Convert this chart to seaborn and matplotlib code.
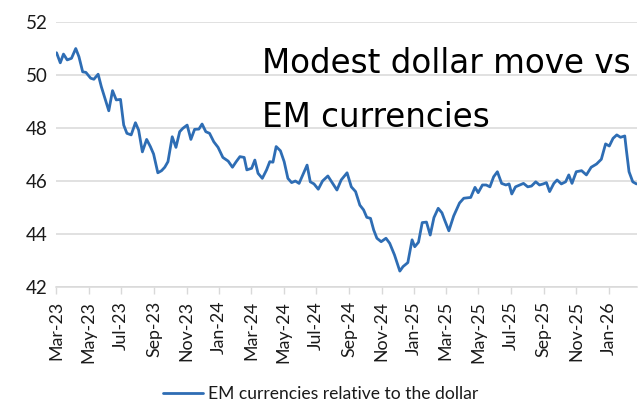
import matplotlib
matplotlib.use("Agg")
import matplotlib.pyplot as plt
import seaborn as sns
import pandas as pd

dates = [
    "2023-03-02", "2023-03-09", "2023-03-15", "2023-03-22", "2023-03-30", "2023-04-07", "2023-04-13",
    "2023-04-20", "2023-04-26", "2023-05-05", "2023-05-11", "2023-05-19", "2023-05-25", "2023-06-08",
    "2023-06-15", "2023-06-22", "2023-06-30", "2023-07-06", "2023-07-12", "2023-07-20", "2023-07-28",
    "2023-08-03", "2023-08-10", "2023-08-18", "2023-08-25", "2023-08-31", "2023-09-08", "2023-09-15",
    "2023-09-21", "2023-09-27", "2023-10-05", "2023-10-12", "2023-10-19", "2023-10-25", "2023-11-02",
    "2023-11-09", "2023-11-16", "2023-11-24", "2023-11-30", "2023-12-07", "2023-12-14", "2023-12-22",
    "2023-12-30", "2024-01-08", "2024-01-18", "2024-01-26", "2024-02-02", "2024-02-09", "2024-02-17",
    "2024-02-22", "2024-03-02", "2024-03-08", "2024-03-14", "2024-03-22", "2024-03-30", "2024-04-05",
    "2024-04-11", "2024-04-17", "2024-04-25", "2024-05-02", "2024-05-09", "2024-05-16", "2024-05-23",
    "2024-05-30", "2024-06-06", "2024-06-14", "2024-06-20", "2024-06-27", "2024-07-05", "2024-07-13",
    "2024-07-23", "2024-08-01", "2024-08-09", "2024-08-17", "2024-08-28", "2024-09-05", "2024-09-13",
    "2024-09-21", "2024-09-28", "2024-10-04", "2024-10-11", "2024-10-17", "2024-10-23", "2024-10-31",
    "2024-11-09", "2024-11-16", "2024-11-25", "2024-12-05", "2024-12-11", "2024-12-20", "2024-12-28",
    "2025-01-02", "2025-01-09", "2025-01-16", "2025-01-24", "2025-01-31", "2025-02-07", "2025-02-15",
    "2025-02-22", "2025-02-27", "2025-03-07", "2025-03-16", "2025-03-27", "2025-04-04", "2025-04-17",
    "2025-04-25", "2025-05-01", "2025-05-09", "2025-05-16", "2025-05-23", "2025-05-30", "2025-06-06",
    "2025-06-14", "2025-06-22", "2025-06-28", "2025-07-03", "2025-07-10", "2025-07-18", "2025-07-25",
    "2025-08-02", "2025-08-09", "2025-08-17", "2025-08-24", "2025-08-31", "2025-09-06", "2025-09-12",
    "2025-09-20", "2025-09-26", "2025-10-04", "2025-10-12", "2025-10-18", "2025-10-24", "2025-11-01",
    "2025-11-11", "2025-11-20", "2025-11-29", "2025-12-09", "2025-12-18", "2025-12-26", "2026-01-02",
    "2026-01-09", "2026-01-16", "2026-01-23", "2026-01-31", "2026-02-03", "2026-02-08", "2026-02-15",
    "2026-02-22",
]

em_vs_dollar = [
    50.84, 50.46, 50.79, 50.57, 50.63, 51.00, 50.69,
    50.12, 50.10, 49.88, 49.84, 50.03, 49.56, 48.65,
    49.41, 49.06, 49.08, 48.11, 47.80, 47.74, 48.20,
    47.92, 47.10, 47.57, 47.30, 47.02, 46.31, 46.39,
    46.52, 46.73, 47.67, 47.27, 47.86, 47.99, 48.11,
    47.57, 47.95, 47.96, 48.15, 47.86, 47.80, 47.48,
    47.27, 46.89, 46.75, 46.52, 46.73, 46.92, 46.89,
    46.42, 46.48, 46.79, 46.29, 46.10, 46.42, 46.73,
    46.71, 47.30, 47.14, 46.73, 46.10, 45.94, 46.00,
    45.91, 46.23, 46.60, 45.97, 45.89, 45.69, 46.00,
    46.19, 45.91, 45.66, 46.04, 46.31, 45.78, 45.60,
    45.09, 44.91, 44.63, 44.59, 44.15, 43.84, 43.71,
    43.84, 43.65, 43.21, 42.60, 42.77, 42.92, 43.78,
    43.52, 43.69, 44.43, 44.45, 43.96, 44.62, 44.97,
    44.80, 44.53, 44.12, 44.68, 45.17, 45.35, 45.38,
    45.76, 45.56, 45.85, 45.85, 45.78, 46.16, 46.35,
    45.91, 45.85, 45.89, 45.51, 45.78, 45.85, 45.91,
    45.78, 45.81, 45.97, 45.85, 45.89, 45.94, 45.60,
    45.91, 46.04, 45.89, 45.97, 46.23, 45.91, 46.35,
    46.39, 46.23, 46.52, 46.64, 46.82, 47.40, 47.32,
    47.61, 47.74, 47.65, 47.70, 47.17, 46.35, 45.97,
    45.89,
]

series_name = "EM currencies relative to the dollar"
title_lines = ["Modest dollar move vs", "EM currencies"]
tick_dates = ["2023-03-01", "2023-05-01", "2023-07-01", "2023-09-01", "2023-11-01",
              "2024-01-01", "2024-03-01", "2024-05-01", "2024-07-01", "2024-09-01",
              "2024-11-01", "2025-01-01", "2025-03-01", "2025-05-01", "2025-07-01",
              "2025-09-01", "2025-11-01", "2026-01-01"]
tick_labels = ["Mar-23", "May-23", "Jul-23", "Sep-23", "Nov-23", "Jan-24", "Mar-24",
               "May-24", "Jul-24", "Sep-24", "Nov-24", "Jan-25", "Mar-25", "May-25",
               "Jul-25", "Sep-25", "Nov-25", "Jan-26"]
y_ticks = [42, 44, 46, 48, 50, 52]

sns.set_theme(style="white")
plt.rcParams["font.family"] = ["Lato", "DejaVu Sans"]

df = pd.DataFrame({"date": pd.to_datetime(dates), "value": em_vs_dollar, "series": series_name})

fig = plt.figure(figsize=(6.41, 4.04), dpi=100)
ax = fig.add_axes([0.0874, 0.2896, 0.9064, 0.6559])

sns.lineplot(data=df, x="date", y="value", hue="series", palette=["#2E6DB4"],
             linewidth=2.0, ax=ax, legend=True)

ax.set_xlim(pd.Timestamp("2023-03-01"), pd.Timestamp("2026-02-23"))
ax.set_ylim(42, 52)
ax.set_yticks(y_ticks)
ax.set_yticklabels([str(v) for v in y_ticks], fontsize=13.5, color="#1a1a1a")
ax.set_xticks(pd.to_datetime(tick_dates))
ax.set_xticklabels(tick_labels, rotation=90, fontsize=12.8, color="#1a1a1a")
ax.set_xlabel("")
ax.set_ylabel("")

ax.grid(axis="y", color="#D9D9D9", linewidth=1.1)
ax.grid(axis="x", visible=False)
for side in ["left", "right", "top"]:
    ax.spines[side].set_visible(False)
ax.spines["bottom"].set_color("#D9D9D9")
ax.spines["bottom"].set_linewidth(1.1)
ax.tick_params(axis="x", which="major", bottom=True, length=5, width=1.0,
               color="#D9D9D9", pad=5)
ax.tick_params(axis="y", left=False, length=0, pad=6)
for lbl in ax.get_yticklabels():
    lbl.set_horizontalalignment("right")

trans = ax.get_yaxis_transform()
ax.text(0.3546, 50.08, title_lines[0], transform=trans, fontsize=23.5,
        family=["DejaVu Sans"], color="black", va="baseline", ha="left")
ax.text(0.3546, 48.05, title_lines[1], transform=trans, fontsize=23.5,
        family=["DejaVu Sans"], color="black", va="baseline", ha="left")

handles, labels = ax.get_legend_handles_labels()
ax.legend_.remove()
fig.legend(handles, labels, loc="center", bbox_to_anchor=(0.5, 0.025),
           frameon=False, fontsize=12.6, handlelength=2.3, handletextpad=0.3,
           labelcolor="#1a1a1a")

fig.savefig("out.png", dpi=100)
